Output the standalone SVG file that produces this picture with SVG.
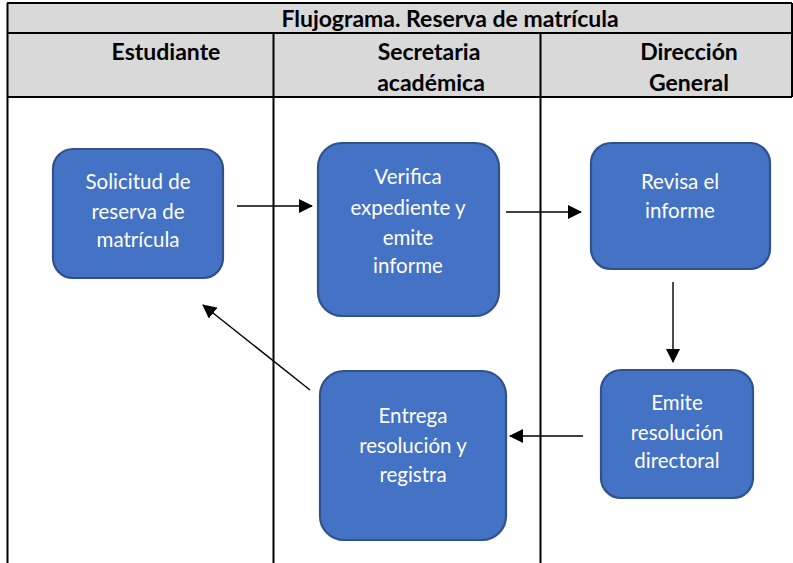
<svg xmlns="http://www.w3.org/2000/svg" width="793" height="563" viewBox="0 0 793 563">
<style>
.hdr{font-family:Lato,"Open Sans","Liberation Sans",sans-serif;font-weight:bold;font-size:23px;fill:#000;text-anchor:middle}
.box{fill:#4472c4;stroke:#2f528f;stroke-width:2.2}
.lbl{font-family:Lato,"Open Sans","Liberation Sans",sans-serif;font-size:20.5px;fill:#fff;text-anchor:middle}
.grid{stroke:#000;stroke-width:2;fill:none}
.conn{stroke:#000;stroke-width:1.4;fill:none;marker-end:url(#arr)}
</style>
<defs>
<marker id="arr" markerUnits="userSpaceOnUse" markerWidth="14" markerHeight="14" viewBox="0 0 14 14" refX="13" refY="7" orient="auto">
<path d="M0,0 L14,7 L0,14 z" fill="#000"/>
</marker>
</defs>
<g id="table">
<rect x="7" y="3" width="785" height="94" fill="#d9d9d9"/>
<line class="grid" x1="7" y1="3" x2="792" y2="3"/>
<line class="grid" x1="7" y1="33" x2="792" y2="33"/>
<line class="grid" x1="7" y1="97" x2="792" y2="97"/>
<line class="grid" x1="792" y1="3" x2="792" y2="97"/>
<line class="grid" x1="7.5" y1="3" x2="7.5" y2="563"/>
<line class="grid" x1="273.5" y1="33" x2="273.5" y2="563"/>
<line class="grid" x1="540.5" y1="33" x2="540.5" y2="563"/>
<text class="hdr" x="450" y="27">Flujograma. Reserva de matrícula</text>
<text class="hdr" x="166" y="60">Estudiante</text>
<text class="hdr" x="429" y="60">Secretaria</text>
<text class="hdr" x="431" y="91">académica</text>
<text class="hdr" x="689" y="60">Dirección</text>
<text class="hdr" x="689" y="91">General</text>
</g>
<g id="n1">
<rect class="box" x="53" y="149" width="170" height="129" rx="20"/>
<text class="lbl" x="138" y="189">Solicitud de</text>
<text class="lbl" x="138" y="219">reserva de</text>
<text class="lbl" x="138" y="247">matrícula</text>
</g>
<g id="n2">
<rect class="box" x="318" y="143" width="181" height="173" rx="24"/>
<text class="lbl" x="408" y="184">Verifica</text>
<text class="lbl" x="408" y="215">expediente y</text>
<text class="lbl" x="408" y="245">emite</text>
<text class="lbl" x="408" y="273">informe</text>
</g>
<g id="n3">
<rect class="box" x="591" y="143" width="179" height="126" rx="20"/>
<text class="lbl" x="680" y="189">Revisa el</text>
<text class="lbl" x="680" y="218">informe</text>
</g>
<g id="n4">
<rect class="box" x="601" y="370" width="152" height="128" rx="20"/>
<text class="lbl" x="677" y="410">Emite</text>
<text class="lbl" x="677" y="440">resolución</text>
<text class="lbl" x="677" y="468">directoral</text>
</g>
<g id="n5">
<rect class="box" x="320" y="371" width="186" height="169" rx="24"/>
<text class="lbl" x="413" y="423">Entrega</text>
<text class="lbl" x="413" y="453">resolución y</text>
<text class="lbl" x="413" y="482">registra</text>
</g>
<g id="connectors">
<line class="conn" x1="237" y1="206" x2="312" y2="206"/>
<line class="conn" x1="506" y1="212" x2="581" y2="212"/>
<line class="conn" x1="673" y1="282" x2="673" y2="362"/>
<line class="conn" x1="583" y1="436" x2="510" y2="436"/>
<line class="conn" x1="310" y1="390" x2="203" y2="305"/>
</g>
</svg>
